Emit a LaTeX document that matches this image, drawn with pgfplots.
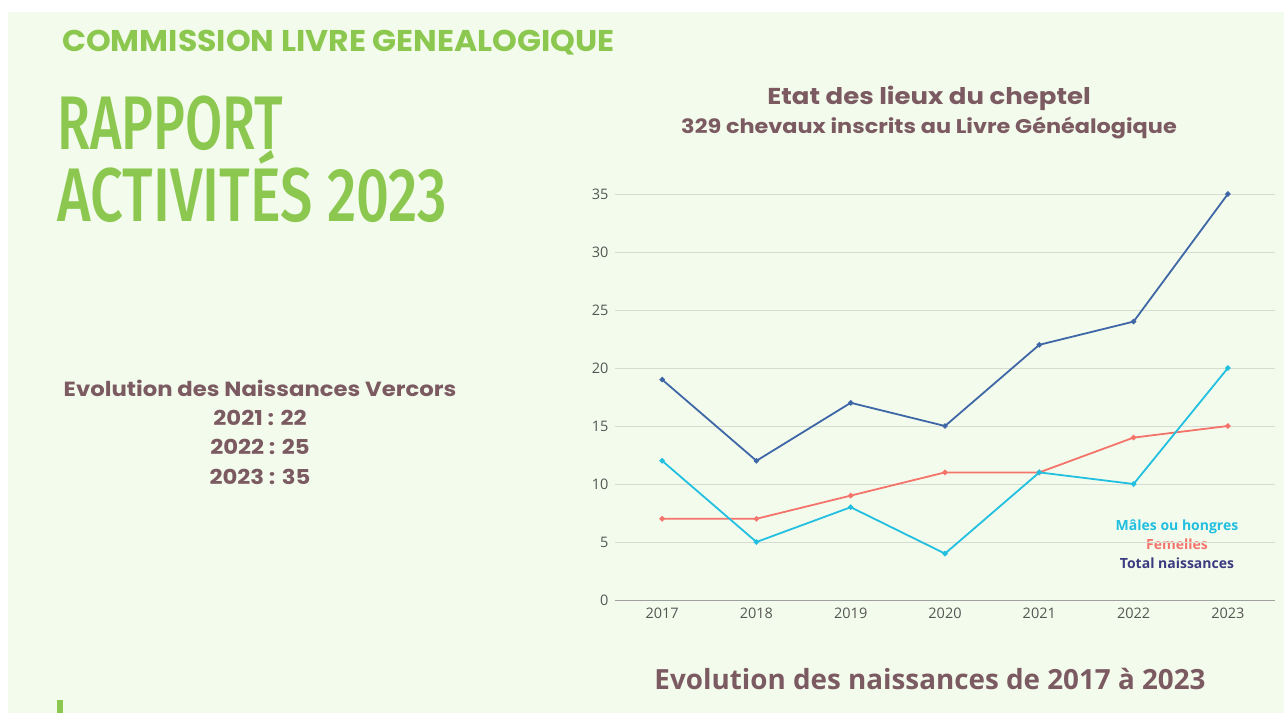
\documentclass[border=0pt]{standalone}
\usepackage{pgfplots}
\pgfplotsset{compat=1.18}
\usepackage{graphicx}
\usepackage{fontspec}
\setmainfont{Open Sans}
\newfontfamily\mont{Poppins}[UprightFont=* SemiBold, BoldFont=* Bold]
\newfontfamily\open{Open Sans}
\newfontfamily\fira{Fira Sans}[UprightFont=* Medium]
\definecolor{bg}{HTML}{F3FCEC}
\definecolor{gtext}{HTML}{8CC850}
\definecolor{mauve}{HTML}{7B5A62}
\definecolor{ctotal}{HTML}{3F66A6}
\definecolor{cmale}{HTML}{22BFE0}
\definecolor{cfem}{HTML}{F4746C}
\definecolor{navy}{HTML}{3B3B7F}
\definecolor{gridc}{HTML}{D6DCCF}
\definecolor{tickc}{HTML}{555555}
\begin{document}
\begin{tikzpicture}
\begin{scope}[x=1pt,y=1pt]
\fill[white] (0,0) rectangle (1284,713);
\fill[bg] (8,0) rectangle (1284,701);
\fill[gtext] (57,0) rectangle (63,13);
% headers
\node[anchor=base west, inner sep=0, text=gtext] at (62,661) {\scalebox{1.05}[1]{\mont\bfseries\fontsize{30}{33}\selectfont COMMISSION LIVRE GENEALOGIQUE}};
\node[anchor=base west, inner sep=0, text=gtext] at (57,563) {\scalebox{0.71}[1]{\fira\fontsize{76}{80}\selectfont RAPPORT}};
\node[anchor=base west, inner sep=0, text=gtext] at (57,491) {\scalebox{0.76}[1]{\fira\fontsize{76}{80}\selectfont ACTIVITÉS 2023}};
% left block
\begin{scope}[every node/.style={anchor=base, inner sep=0, text=mauve, font=\mont\bfseries\fontsize{20.5}{23}\selectfont}]
\node at (260,317) {\scalebox{1.11}[1]{Evolution des Naissances Vercors}};
\node at (260,288) {\scalebox{1.11}[1]{2021 : 22}};
\node at (260,259) {\scalebox{1.11}[1]{2022 : 25}};
\node at (260,229) {\scalebox{1.11}[1]{2023 : 35}};
\end{scope}
% chart titles
\node[anchor=base, inner sep=0, text=mauve] at (929,608) {\scalebox{1.13}[1]{\mont\bfseries\fontsize{23}{26}\selectfont Etat des lieux du cheptel}};
\node[anchor=base, inner sep=0, text=mauve] at (929,579) {\scalebox{1.13}[1]{\mont\bfseries\fontsize{19.8}{22}\selectfont 329 chevaux inscrits au Livre Généalogique}};
\node[anchor=base, inner sep=0, text=mauve] at (930,24) {\open\bfseries\fontsize{27.8}{30}\selectfont Evolution des naissances de 2017 à 2023};
% legend
\begin{scope}[every node/.style={anchor=base, inner sep=0}]
\node[text=cmale] at (1177,183) {\open\bfseries\fontsize{14}{16}\selectfont Mâles ou hongres};
\node[text=cfem] at (1177,164) {\open\bfseries\fontsize{14}{16}\selectfont Femelles};
\node[text=navy] at (1177,145) {\open\bfseries\fontsize{14}{16}\selectfont Total naissances};
\end{scope}
\end{scope}
\begin{axis}[
  at={(615pt,113pt)}, anchor=south west, scale only axis,
  width=660pt, height=417.6pt,
  xmin=-0.5, xmax=6.5, ymin=0, ymax=36,
  axis x line*=bottom, axis y line*=left,
  x axis line style={draw=gray!75, line width=1pt, -},
  y axis line style={draw=none},
  tick style={draw=none},
  ytick={0,5,...,35},
  xtick={0,...,6},
  xticklabels={2017,2018,2019,2020,2021,2022,2023},
  ymajorgrids, grid style={draw=gridc, line width=1pt},
  /pgf/number format/assume math mode=true,
  tick label style={font=\open\fontsize{14.5}{16}\selectfont, text=tickc},
  yticklabel style={xshift=-3pt},
  xticklabel style={yshift=-4pt},
  every axis plot/.append style={line width=1.8pt, mark=*, mark size=1.7pt},
  clip=false,
]
\addplot[color=ctotal] coordinates {(0,19) (1,12) (2,17) (3,15) (4,22) (5,24) (6,35)};
\addplot[color=cfem] coordinates {(0,7) (1,7) (2,9) (3,11) (4,11) (5,14) (6,15)};
\addplot[color=cmale] coordinates {(0,12) (1,5) (2,8) (3,4) (4,11) (5,10) (6,20)};
\end{axis}
\end{tikzpicture}
\end{document}
